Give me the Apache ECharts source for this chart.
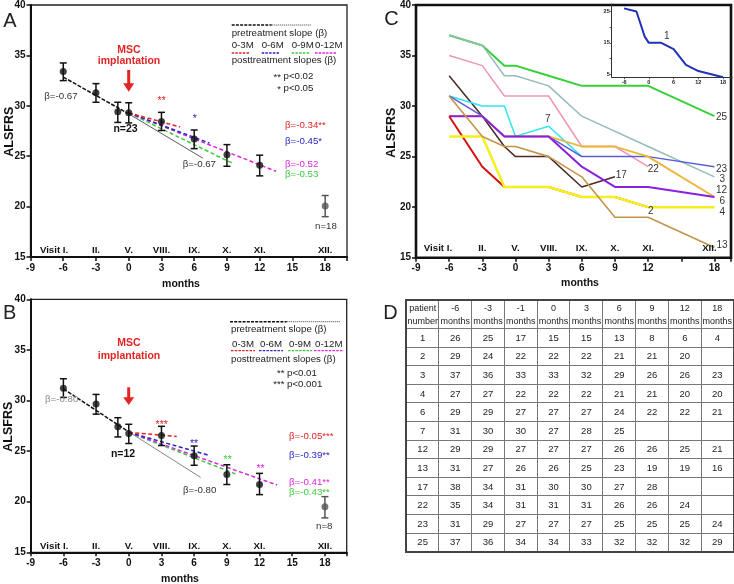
<!DOCTYPE html>
<html><head><meta charset="utf-8">
<script src="https://cdn.jsdelivr.net/npm/echarts@6/dist/echarts.min.js"></script>
<style>
html,body{margin:0;padding:0;background:#fff;}
#wrap{position:relative;width:734px;height:584px;overflow:hidden;}
#chart{position:absolute;left:0;top:0;width:734px;height:584px;}
#tbl{position:absolute;left:405px;top:299px;width:328px;border-collapse:collapse;table-layout:fixed;
  font-family:'Liberation Sans',Arial,sans-serif;color:#222;border:2px solid #444;}
#tbl td{border:1px solid #777;text-align:center;padding:0;font-size:9.5px;height:17.6px;line-height:10px;}
#tbl tr.h td{height:27px;font-size:9px;line-height:12.5px;}
</style></head>
<body><div id="wrap"><div id="chart"></div><table id="tbl"></table></div>
<script>
// ---------- data ----------
const months = [-6, -3, -1, 0, 3, 6, 9, 12, 18];
const visitLabels = ['Visit I.', 'II.', 'V.', 'VIII.', 'IX.', 'X.', 'XI.', 'XII.'];
const visitMonths = [-6, -3, 0, 3, 6, 9, 12, 18];

// Panel A (n=23)
const meanA = [33.4, 31.3, 29.4, 29.3, 28.45, 26.7, 25.15, 24.1, 20.05];
const lowA  = [32.5, 30.35, 28.35, 28.3, 27.55, 25.75, 24.0, 23.05, 19.0];
const highA = [34.25, 32.2, 30.35, 30.3, 29.35, 27.6, 26.15, 25.1, 21.1];
const preA = [[-6, 32.85], [0, 29.2]];
const preExtA = [[0, 29.2], [6.8, 24.8]];
const post3A = [[0, 29.3], [4.7, 27.9]];
const post6A = [[0, 29.3], [7.4, 26.3]];
const post9A = [[0, 29.3], [9.5, 24.3]];
const post12A = [[0, 29.3], [13.5, 23.5]];

// Panel B (n=12)
const meanB = [31.2, 29.65, 27.4, 26.75, 26.55, 24.55, 22.7, 21.7, 19.5];
const lowB  = [30.3, 28.65, 26.4, 25.75, 25.55, 23.6, 21.7, 20.7, 18.4];
const highB = [32.15, 30.6, 28.3, 27.65, 27.45, 25.5, 23.65, 22.8, 20.5];
const preB = [[-6, 31.15], [0, 26.9]];
const preExtB = [[0, 26.9], [6.6, 22.4]];
const post3B = [[0, 26.85], [4.4, 26.45]];
const post6B = [[0, 26.85], [7.3, 24.6]];
const post9B = [[0, 26.85], [9.8, 22.75]];
const post12B = [[0, 26.85], [13.6, 21.65]];

// Panel C (individual patients, values at `months`)
const patientIds = ['25', '3', '22', '17', '7', '23', '12', '6', '2', '4', '13'];
const p25 = [37, 36, 34, 34, 33, 32, 32, 32, 29];
const p3  = [37, 36, 33, 33, 32, 29, null, 26, 23];
const p22 = [35, 34, 31, 31, 31, 26, 26, 24, null];
const p17 = [33, 29, 26, 25, 25, 22, 23, null, null];
const p7  = [31, 30, 30, 27, 28, 25, null, null, null];
const p23 = [31, 29, 27, 27, 27, 25, 25, 25, 24];
const p12 = [29, 29, 27, 27, 27, 26, 26, 25, 21];
const p6  = [29, 29, 27, 27, 27, 24, 22, 22, 21];
const p2  = [29, 24, 22, 22, 22, 21, 21, 20, null];
const p4  = [27, 27, 22, 22, 22, 21, 21, 20, 20];
const p13 = [31, 27, 26, 26, 25, 23, 19, 19, 16];
const p1  = [26, 25, 17, 15, 15, 13, 8, 6, 4];   // inset
const patientValues = [p25, p3, p22, p17, p7, p23, p12, p6, p2, p4, p13];

// Panel D table
const tableHeader = ['patient number', '-6 months', '-3 months', '-1 months', '0 months', '3 months', '6 months', '9 months', '12 months', '18 months'];
const tablePatients = [1, 2, 3, 4, 6, 7, 12, 13, 17, 22, 23, 25];
const tableValues = [
  [26, 25, 17, 15, 15, 13, 8, 6, 4],
  [29, 24, 22, 22, 22, 21, 21, 20, null],
  [37, 36, 33, 33, 32, 29, 26, 26, 23],
  [27, 27, 22, 22, 22, 21, 21, 20, 20],
  [29, 29, 27, 27, 27, 24, 22, 22, 21],
  [31, 30, 30, 27, 28, 25, null, null, null],
  [29, 29, 27, 27, 27, 26, 26, 25, 21],
  [31, 27, 26, 26, 25, 23, 19, 19, 16],
  [38, 34, 31, 30, 30, 27, 28, null, null],
  [35, 34, 31, 31, 31, 26, 26, 24, null],
  [31, 29, 27, 27, 27, 25, 25, 25, 24],
  [37, 36, 34, 34, 33, 32, 32, 32, 29]
];

// ---------- styles ----------
const FONT = "'Liberation Sans', Arial, Helvetica, sans-serif";
const RED = '#e42424', BLUE = '#2626c4', GREEN = '#3ccc3c', MAG = '#dc24dc';
const patientColors = {'25':'#38d038','3':'#95bcbc','22':'#ee96b8','17':'#4a2c24','7':'#30e4f0',
  '23':'#5c5cd8','12':'#ecb632','6':'#8a20e0','2':'#d41010','4':'#f6ee1e','13':'#c4944a'};
const patientWidths = {'25':2,'3':1.5,'22':1.5,'17':1.5,'7':1.5,'23':1.5,'12':1.8,'6':2,'2':2,'4':2.5,'13':1.6};

function mainX(grid, max, hide15) {
  return {type:'value', gridIndex:grid, min:-9, max:max, interval:3,
    axisLine:{show:true, onZero:false, lineStyle:{color:'#111', width:2}},
    axisTick:{show:true, length:4, lineStyle:{color:'#111', width:1.5}},
    axisLabel:{margin:6, fontSize:10, fontWeight:'bold', color:'#111', fontFamily:FONT,
      formatter: v => (Math.abs(v % 3) < 1e-9 && v <= 18 && !(hide15 && v === 15)) ? String(v) : ''},
    splitLine:{show:false}};
}
function mainY(grid) {
  return {type:'value', gridIndex:grid, min:15, max:40, interval:5,
    axisLine:{show:true, onZero:false, lineStyle:{color:'#111', width:2}},
    axisTick:{show:true, length:4, lineStyle:{color:'#111', width:1.5}},
    axisLabel:{margin:5, fontSize:10, fontWeight:'bold', color:'#111', fontFamily:FONT},
    splitLine:{show:false}};
}
function errSeries(ai, lo, hi) {
  return {type:'custom', xAxisIndex:ai, yAxisIndex:ai, z:3, silent:true,
    data: months.map((m, i) => [m, lo[i], hi[i]]),
    encode:{x:0, y:[1, 2]},
    renderItem(params, api) {
      const x = api.value(0);
      const a = api.coord([x, api.value(1)]);
      const b = api.coord([x, api.value(2)]);
      const col = x === 18 ? '#555' : '#111';
      const w = 3.5;
      return {type:'group', children:[
        {type:'line', shape:{x1:a[0], y1:a[1], x2:b[0], y2:b[1]}, style:{stroke:col, lineWidth:1.5}},
        {type:'line', shape:{x1:a[0]-w, y1:a[1], x2:a[0]+w, y2:a[1]}, style:{stroke:col, lineWidth:1.5}},
        {type:'line', shape:{x1:b[0]-w, y1:b[1], x2:b[0]+w, y2:b[1]}, style:{stroke:col, lineWidth:1.5}}
      ]};
    }};
}
function pointSeries(ai, mean) {
  return {type:'scatter', xAxisIndex:ai, yAxisIndex:ai, z:4, symbolSize:7, silent:true,
    data: months.map((m, i) => ({value:[m, mean[i]], itemStyle:{color: m === 18 ? '#555' : '#111'}}))};
}
function seg(ai, data, color, width, type, z) {
  return {type:'line', xAxisIndex:ai, yAxisIndex:ai, data, symbol:'none', silent:true, z:z || 2,
    lineStyle:{color, width, type}};
}

const series = [];
[[0, meanA, lowA, highA, preA, preExtA, post3A, post6A, post9A, post12A, '#333'],
 [1, meanB, lowB, highB, preB, preExtB, post3B, post6B, post9B, post12B, '#666']].forEach(p => {
  const [ai, mean, lo, hi, pre, ext, q3, q6, q9, q12, extCol] = p;
  series.push(seg(ai, ext, extCol, 0.8, 'solid', 1));
  series.push(seg(ai, pre, '#111', 1.5, [4, 1.5], 2));
  series.push(seg(ai, q9, GREEN, 1.5, [4, 2.5], 2));
  series.push(seg(ai, q12, MAG, 1.5, [4, 2.5], 2));
  series.push(seg(ai, q6, BLUE, 1.5, [4, 2.5], 2));
  series.push(seg(ai, q3, RED, 1.5, [4, 2.5], 2));
  series.push(errSeries(ai, lo, hi));
  series.push(pointSeries(ai, mean));
});
patientIds.forEach((id, k) => {
  series.push({type:'line', name:'patient ' + id, xAxisIndex:2, yAxisIndex:2, symbol:'none', silent:true,
    connectNulls:true, z:2,
    data: months.map((m, i) => [m, patientValues[k][i]]),
    lineStyle:{color:patientColors[id], width:patientWidths[id]}});
});
series.push({type:'line', name:'patient 1', xAxisIndex:3, yAxisIndex:3, symbol:'none', silent:true, z:3,
  data: months.map((m, i) => [m, p1[i]]), lineStyle:{color:'#2232b8', width:2}});

const chart = echarts.init(document.getElementById('chart'), null, {renderer:'canvas'});
chart.setOption({
  animation:false,
  backgroundColor:'#fff',
  grid:[
    {left:30.5, top:4, width:316.5, height:253, show:true, borderColor:'#222', borderWidth:1.3},
    {left:30.7, top:299.3, width:316, height:253, show:true, borderColor:'#222', borderWidth:1.3},
    {left:416, top:4, width:317.7, height:253.7, show:true, borderColor:'#111', borderWidth:2.6},
    {left:611.7, top:4, width:120.5, height:73.3, show:false}
  ],
  xAxis:[
    mainX(0, 20, false), mainX(1, 20, false), mainX(2, 19.5, true),
    {type:'value', gridIndex:3, min:-9, max:20.2,
      axisLine:{show:true, onZero:false, lineStyle:{color:'#333', width:1}},
      axisTick:{show:true, length:2, customValues:[-6, 0, 6, 12, 18], lineStyle:{color:'#333', width:0.8}},
      axisLabel:{margin:2, fontSize:5.5, fontWeight:'bold', color:'#222', fontFamily:FONT, customValues:[-6, 0, 6, 12, 18]},
      splitLine:{show:false}}
  ],
  yAxis:[
    mainY(0), mainY(1), mainY(2),
    {type:'value', gridIndex:3, min:4, max:27.4,
      axisLine:{show:true, onZero:false, lineStyle:{color:'#333', width:1}},
      axisTick:{show:true, length:2, customValues:[5, 10, 15, 20, 25], lineStyle:{color:'#333', width:0.8}},
      axisLabel:{margin:2, fontSize:5.5, fontWeight:'bold', color:'#222', fontFamily:FONT, customValues:[5, 15, 25]},
      splitLine:{show:false}}
  ],
  series
});

// ---------- annotations ----------
function txt(x, y, s, o) {
  o = o || {};
  return {type:'text', x, y, z:100, rotation:o.rot || 0, silent:true,
    style:{text:s, fill:o.c || '#222', fontSize:o.fs || 9.7, fontWeight:o.fw || 'normal',
      fontFamily:FONT, align:o.a || 'left', verticalAlign:'middle'}};
}
function ln(x1, y1, x2, y2, stroke, w, dash) {
  return {type:'line', z:100, silent:true, shape:{x1, y1, x2, y2},
    style:{stroke, lineWidth:w, lineDash:dash || null}};
}
const g = [];
// panel letters
g.push(txt(10, 21.5, 'A', {fs:20, a:'center'}));
g.push(txt(9.7, 313.3, 'B', {fs:20, a:'center'}));
g.push(txt(391.5, 19, 'C', {fs:20, a:'center'}));
g.push(txt(390.5, 313.5, 'D', {fs:20, a:'center'}));
// axis names
[[9.3, 131.7], [8.7, 426.7], [391.7, 132.7]].forEach(p =>
  g.push(txt(p[0], p[1], 'ALSFRS', {fs:12.5, fw:'bold', a:'center', c:'#111', rot:Math.PI / 2})));
[[181, 284], [180, 579.3], [580, 282.7]].forEach(p =>
  g.push(txt(p[0], p[1], 'months', {fs:10.5, fw:'bold', a:'center', c:'#111'})));
// visit labels
[[0, 250, 5, 0], [1, 546.7, 5, 0], [2, 248.3, 3, -5]].forEach(v => {
  const [gi, y, dFirst, dLast] = v;
  visitMonths.forEach((m, i) => {
    const px = chart.convertToPixel({gridIndex:gi}, [m, 20])[0];
    if (i === 0) g.push(txt(px + dFirst, y, visitLabels[i], {fs:9.7, fw:'bold', a:'right', c:'#111'}));
    else if (i === visitMonths.length - 1) g.push(txt(px + dLast, y, visitLabels[i], {fs:9.7, fw:'bold', a:'center', c:'#111'}));
    else g.push(txt(px, y, visitLabels[i], {fs:9.7, fw:'bold', a:'center', c:'#111'}));
  });
});
// MSC implantation + arrows
[[0, 50, 61, 70, 83.3, 91.7], [293.3, 343.3, 355.7, 387.3, 397.3, 405]].forEach(r => {
  const [, yM, yI, yS, yH, yT] = r;
  g.push(txt(128.9, yM, 'MSC', {fs:10.5, fw:'bold', a:'center', c:RED}));
  g.push(txt(129, yI, 'implantation', {fs:10.5, fw:'bold', a:'center', c:RED}));
  g.push(ln(128.7, yS, 128.7, yH + 1, RED, 3));
  g.push({type:'polygon', z:100, silent:true, shape:{points:[[123.2, yH], [134.2, yH], [128.7, yT]]}, style:{fill:RED}});
});
// panel A texts
g.push(txt(44.3, 96.7, 'β=-0.67', {c:'#333'}));
g.push(txt(125.5, 129, 'n=23', {fw:'bold', fs:10.5, a:'center', c:'#111'}));
g.push(txt(161.7, 101, '**', {c:RED, a:'center', fs:10.5}));
g.push(txt(194.7, 118.7, '*', {c:BLUE, a:'center', fs:10.5}));
g.push(txt(182.7, 164.3, 'β=-0.67', {c:'#333'}));
g.push(txt(285, 125, 'β=-0.34**', {c:RED}));
g.push(txt(285, 141, 'β=-0.45*', {c:BLUE}));
g.push(txt(285, 164.3, 'β=-0.52', {c:MAG}));
g.push(txt(285, 174.3, 'β=-0.53', {c:GREEN}));
g.push(txt(315, 226.7, 'n=18', {c:'#333'}));
// panel A legend
g.push(ln(231.7, 25, 271.7, 25, '#111', 1.5, [3, 1.2]));
g.push(ln(271.7, 25, 311.7, 25, '#333', 0.8, [1.2, 0.8]));
g.push(txt(231.7, 33.7, 'pretreatment slope (β)'));
[['0-3M', 231.7, 250, RED], ['0-6M', 261.7, 280, BLUE], ['0-9M', 291.7, 310, GREEN], ['0-12M', 315, 337, MAG]].forEach(l => {
  g.push(txt(l[1], 45.8, l[0]));
  g.push(ln(l[1], 53, l[2], 53, l[3], 1.3, [2.5, 1.2]));
});
g.push(txt(231.7, 60.8, 'posttreatment slopes (β)'));
g.push(txt(281, 77, '**', {a:'right'}));
g.push(txt(283.5, 76.5, 'p<0.02'));
g.push(txt(281, 89, '*', {a:'right'}));
g.push(txt(283.5, 88.5, 'p<0.05'));
// panel B texts
g.push(txt(45, 399, 'β=-0.80', {c:'#888'}));
g.push(txt(123, 454.3, 'n=12', {fw:'bold', fs:10.5, a:'center', c:'#111'}));
g.push(txt(161.7, 424.7, '***', {c:RED, a:'center', fs:10.5}));
g.push(txt(194, 443.7, '**', {c:BLUE, a:'center', fs:10.5}));
g.push(txt(227.7, 459.7, '**', {c:GREEN, a:'center', fs:10.5}));
g.push(txt(260.5, 468.7, '**', {c:MAG, a:'center', fs:10.5}));
g.push(txt(183, 490, 'β=-0.80', {c:'#333'}));
g.push(txt(289, 436.7, 'β=-0.05***', {c:RED}));
g.push(txt(289, 455.7, 'β=-0.39**', {c:BLUE}));
g.push(txt(289, 482.3, 'β=-0.41**', {c:MAG}));
g.push(txt(289, 492.3, 'β=-0.43**', {c:GREEN}));
g.push(txt(316, 526, 'n=8', {c:'#333'}));
// panel B legend
g.push(ln(230, 321.7, 286.7, 321.7, '#111', 1.5, [3, 1.2]));
g.push(ln(286.7, 321.7, 340.7, 321.7, '#333', 0.8, [1.2, 0.8]));
g.push(txt(231, 329.3, 'pretreatment slope (β)'));
[['0-3M', 232, 255, RED], ['0-6M', 260, 283, BLUE], ['0-9M', 289, 312, GREEN], ['0-12M', 315, 343, MAG]].forEach(l => {
  g.push(txt(l[1], 344, l[0]));
  g.push(ln(l[1] - 1, 350.7, l[2], 350.7, l[3], 1.3, [2.5, 1.2]));
});
g.push(txt(231, 359, 'posttreatment slopes (β)'));
g.push(txt(284.5, 373.8, '**', {a:'right'}));
g.push(txt(287, 373.3, 'p<0.01'));
g.push(txt(284.5, 384.5, '***', {a:'right'}));
g.push(txt(287, 384, 'p<0.001'));
// panel C patient labels
[['25', 716, 117], ['23', 716, 169], ['3', 719.5, 179], ['12', 716, 190], ['6', 719.5, 201],
 ['4', 719.5, 212], ['13', 716.5, 245], ['22', 647.7, 169], ['2', 648, 211.7], ['17', 615.7, 175.7],
 ['7', 545, 119.3], ['1', 664, 36.7]].forEach(l => g.push(txt(l[1], l[2], l[0], {fs:10, c:'#333'})));

chart.setOption({graphic:g});

// ---------- table D ----------
const tbl = document.getElementById('tbl');
let html = '<colgroup>' + tableHeader.map(() => '<col style="width:32.8px">').join('') + '</colgroup>';
html += '<tr class="h">' + tableHeader.map(h => '<td>' + h.replace(' ', '<br>') + '</td>').join('') + '</tr>';
tablePatients.forEach((id, r) => {
  html += '<tr><td>' + id + '</td>' + tableValues[r].map(v => '<td>' + (v === null ? '' : v) + '</td>').join('') + '</tr>';
});
tbl.innerHTML = html;
</script>
</body></html>
